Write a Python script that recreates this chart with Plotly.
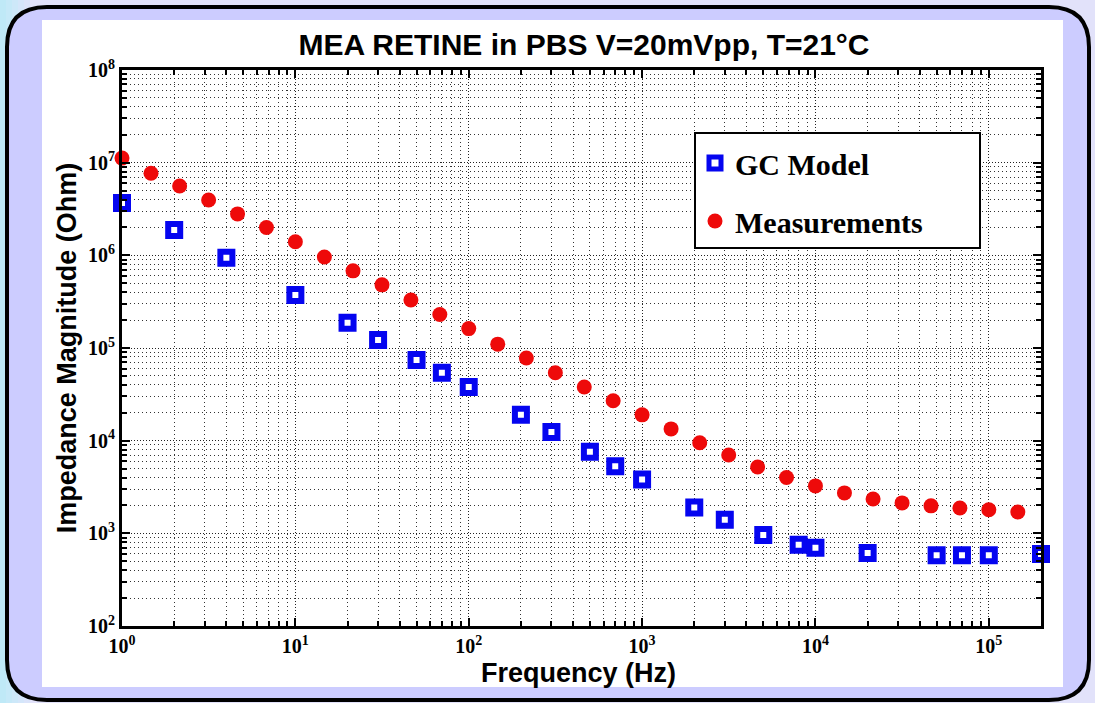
import plotly.graph_objects as go

# ---------------- data ----------------
gc_freq = [1, 2, 4, 10, 20, 30, 50, 70, 100, 200, 300, 500, 700, 1000,
           2000, 3000, 5000, 8000, 10000, 20000, 50000, 70000, 100000, 200000]
gc_imp = [3.67e6, 1.88e6, 9.4e5, 3.74e5, 1.87e5, 1.22e5, 7.4e4, 5.4e4, 3.8e4,
          1.9e4, 1.24e4, 7.6e3, 5.3e3, 3.8e3, 1.9e3, 1.4e3, 960, 755, 700,
          615, 580, 580, 580, 600]

meas_freq = [1, 1.47, 2.15, 3.16, 4.64, 6.81, 10, 14.7, 21.5, 31.6, 46.4, 68.1,
             100, 147, 215, 316, 464, 681, 1000, 1470, 2150, 3160, 4640, 6810,
             10000, 14700, 21500, 31600, 46400, 68100, 100000, 147000]
meas_imp = [1.12e7, 7.7e6, 5.6e6, 3.96e6, 2.8e6, 2.0e6, 1.4e6, 9.6e5, 6.8e5,
            4.8e5, 3.3e5, 2.3e5, 1.62e5, 1.1e5, 7.8e4, 5.4e4, 3.8e4, 2.7e4,
            1.9e4, 1.34e4, 9.5e3, 7.0e3, 5.2e3, 4.0e3, 3.25e3, 2.73e3, 2.35e3,
            2.13e3, 1.98e3, 1.88e3, 1.8e3, 1.7e3]

x_major = [1, 10, 100, 1000, 10000, 100000]
x_major_text = ["10<sup>0</sup>", "10<sup>1</sup>", "10<sup>2</sup>",
                "10<sup>3</sup>", "10<sup>4</sup>", "10<sup>5</sup>"]
y_major = [1e2, 1e3, 1e4, 1e5, 1e6, 1e7, 1e8]
y_major_text = ["10<sup>2</sup>", "10<sup>3</sup>", "10<sup>4</sup>",
                "10<sup>5</sup>", "10<sup>6</sup>", "10<sup>7</sup>",
                "10<sup>8</sup>"]

x_minor = [k * 10 ** n for n in range(0, 6) for k in range(2, 10)]
y_minor = [k * 10 ** n for n in range(2, 8) for k in range(2, 10)]

# ---------------- geometry (pixels) ----------------
FW, FH = 1095, 703
L, T, R, B = 122, 70, 1041, 626
W, H = R - L, B - T


def px(x):
    return (x - L) / W


def py(y):
    return (B - y) / H


def P(x, y):
    return f"{px(x):.5f},{py(y):.5f}"


def rounded(x0, y0, x1, y1, r):
    return (f"M {P(x0 + r, y0)} L {P(x1 - r, y0)} Q {P(x1, y0)} {P(x1, y0 + r)} "
            f"L {P(x1, y1 - r)} Q {P(x1, y1)} {P(x1 - r, y1)} "
            f"L {P(x0 + r, y1)} Q {P(x0, y1)} {P(x0, y1 - r)} "
            f"L {P(x0, y0 + r)} Q {P(x0, y0)} {P(x0 + r, y0)} Z")


shapes = []
# left cyan-ish gradient strip
strip_cols = ["#bfe9f7", "#c6e9f8", "#cde8f9", "#d4e6fa", "#dbe4fa", "#e2e2fa"]
for i, c in enumerate(strip_cols):
    shapes.append(dict(type="rect", xref="paper", yref="paper", layer="below",
                       x0=px(i * 6), x1=px(i * 6 + 6), y0=py(FH), y1=py(0),
                       fillcolor=c, line=dict(width=0)))
# rounded frame
shapes.append(dict(type="path", xref="paper", yref="paper", layer="below",
                   path=rounded(7, 7, 1089, 700, 40),
                   fillcolor="#ccccff", line=dict(color="black", width=4)))
# white figure area
shapes.append(dict(type="rect", xref="paper", yref="paper", layer="below",
                   x0=px(42), x1=px(1063), y0=py(687), y1=py(20),
                   fillcolor="white", line=dict(width=0)))
# legend box
shapes.append(dict(type="rect", xref="paper", yref="paper", layer="above",
                   x0=px(695), x1=px(980), y0=py(248), y1=py(133),
                   fillcolor="white", line=dict(color="black", width=2)))

fig = go.Figure()
fig.add_trace(go.Scatter(
    x=gc_freq, y=gc_imp, mode="markers", name="GC Model", legendgroup="a",
    cliponaxis=False,
    marker=dict(symbol="square", size=12, color="white",
                line=dict(color="#0505f0", width=6))))
fig.add_trace(go.Scatter(
    x=meas_freq, y=meas_imp, mode="markers", name="Measurements",
    legendgroup="b", cliponaxis=False,
    marker=dict(symbol="circle", size=15, color="#ee0a0a",
                line=dict(width=0))))

grid_common = dict(showgrid=True, gridcolor="#222222", gridwidth=1,
                   griddash="1px,2px")

fig.update_xaxes(
    type="log", range=[0, 5.30103], tickmode="array", tickvals=x_major,
    ticktext=x_major_text, ticks="inside", ticklen=8, tickwidth=2,
    tickcolor="black", showline=True, linecolor="black", linewidth=3,
    mirror="allticks", zeroline=False,
    tickfont=dict(family="Liberation Serif", size=20, color="black",
                  weight="bold"),
    minor=dict(tickmode="array", tickvals=x_minor, ticks="inside", ticklen=5,
               tickwidth=2, tickcolor="black", showgrid=True,
               gridcolor="#333333", gridwidth=1, griddash="1px,3px"),
    **grid_common)
fig.update_yaxes(
    type="log", range=[2, 8], tickmode="array", tickvals=y_major,
    ticktext=y_major_text, ticks="inside", ticklen=8, tickwidth=2,
    tickcolor="black", showline=True, linecolor="black", linewidth=3,
    mirror="allticks", zeroline=False,
    tickfont=dict(family="Liberation Serif", size=20, color="black",
                  weight="bold"),
    minor=dict(tickmode="array", tickvals=y_minor, ticks="inside", ticklen=5,
               tickwidth=2, tickcolor="black", showgrid=True,
               gridcolor="#333333", gridwidth=1, griddash="1px,3px"),
    title=dict(text="Impedance Magnitude (Ohm)", standoff=4,
               font=dict(family="Liberation Sans", size=27, color="black",
                         weight="bold")),
    **grid_common)

fig.update_layout(
    width=FW, height=FH,
    margin=dict(l=L, r=FW - R, t=T, b=FH - B, pad=0),
    paper_bgcolor="#e2e2fa", plot_bgcolor="white",
    title=dict(text="MEA RETINE in PBS V=20mVpp, T=21°C",
               x=px(584), xref="paper", xanchor="center",
               y=1 - 44 / FH, yanchor="middle",
               font=dict(family="Liberation Sans", size=30, color="black",
                         weight="bold")),
    annotations=[dict(text="Frequency (Hz)", xref="paper", yref="paper",
                      x=px(578), y=py(673), xanchor="center",
                      yanchor="middle", showarrow=False,
                      font=dict(family="Liberation Sans", size=27,
                                color="black", weight="bold"))],
    shapes=shapes,
    showlegend=True,
    legend=dict(x=px(695), y=py(137), xanchor="left", yanchor="top",
                bgcolor="rgba(0,0,0,0)", borderwidth=0,
                tracegroupgap=16, itemwidth=30,
                font=dict(family="Liberation Serif", size=30, color="black",
                          weight="bold")),
)

fig.write_html("out.html")
